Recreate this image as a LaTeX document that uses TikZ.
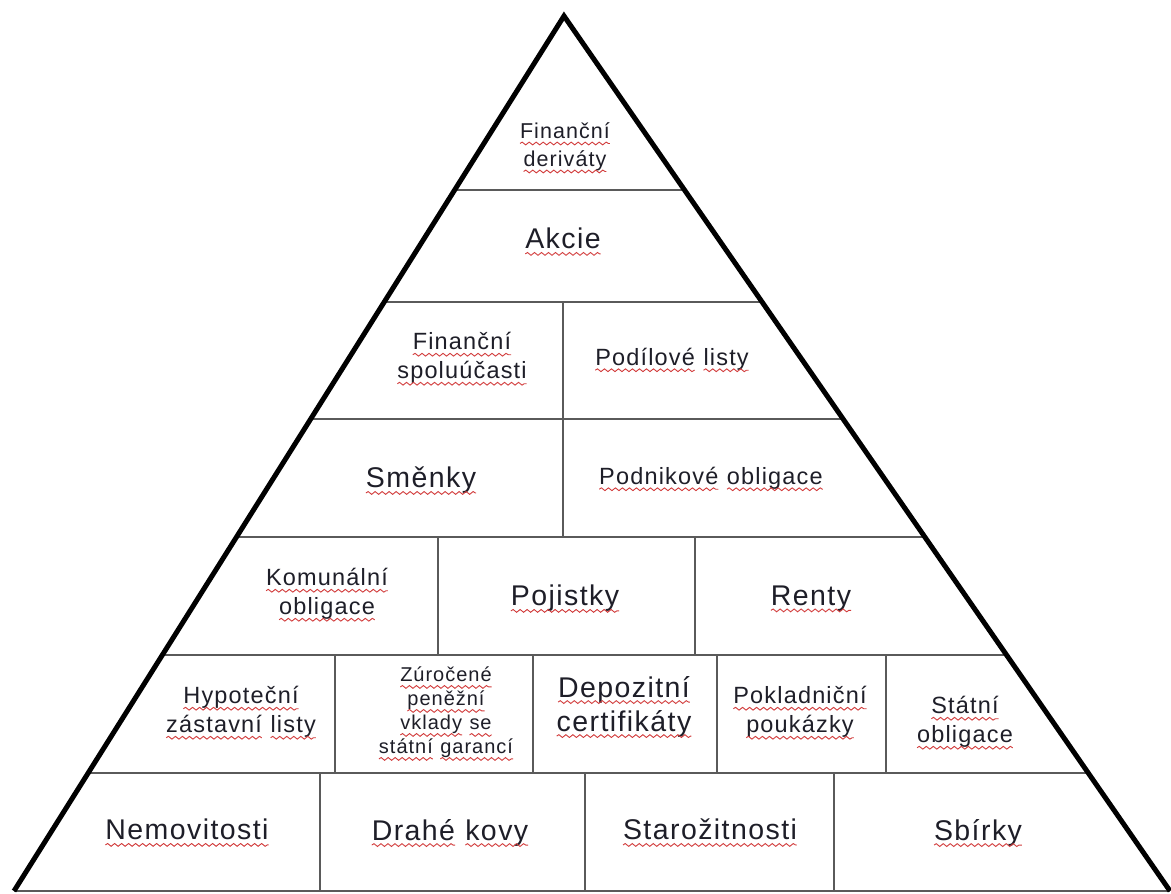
\documentclass[tikz,border=0pt]{standalone}
\usepackage{fontspec}
\setmainfont{Liberation Sans}[LetterSpace=5]
\usetikzlibrary{calc,decorations.pathmorphing}
\definecolor{wavered}{HTML}{D23C3C}
\definecolor{txt}{HTML}{1E1E28}
\definecolor{rule}{HTML}{5A5A5A}
\newcommand\rw[1]{\tikz[baseline=(w.base)]{\node[inner sep=0pt,outer sep=0pt] (w) {#1};
  \draw[wavered, line width=0.9pt, decorate, decoration={snake, amplitude=1.4pt, segment length=7pt}]
    ([yshift=-5pt]w.base west) -- ([yshift=-5pt]w.base east);}}
\tikzset{
  lbl/.style={align=center, text=txt, inner sep=0pt},
  big/.style={lbl, font=\fontsize{28.5}{34}\selectfont},
  mid/.style={lbl, font=\fontsize{23.5}{29}\selectfont},
  small/.style={lbl, font=\fontsize{21.5}{28}\selectfont},
  tiny/.style={lbl, font=\fontsize{20}{24}\selectfont},
  side/.style={line width=5pt, black, line join=miter},
  hline/.style={line width=2pt, rule},
  vline/.style={line width=2pt, rule},
}
\begin{document}
\begin{tikzpicture}[x=1pt, y=-1pt]
\useasboundingbox (0,0) rectangle (1171,894);
\fill[white] (0,0) rectangle (1171,894);
\coordinate (A) at (564,16);
\coordinate (L) at (14,891);
\coordinate (R) at (1170,891);
% horizontal rules
\foreach \yy in {190,302,419,537,655,773} {
  \pgfmathsetmacro\tt{(\yy-16)/875}
  \draw[hline] ($(A)!\tt!(L)$) -- ($(A)!\tt!(R)$);
}
\draw[hline] (L) -- (R);
% vertical rules
\draw[vline] (563,302) -- (563,537);
\draw[vline] (438,537) -- (438,655);
\draw[vline] (695,537) -- (695,655);
\draw[vline] (335,655) -- (335,773);
\draw[vline] (533,655) -- (533,773);
\draw[vline] (717,655) -- (717,773);
\draw[vline] (886,655) -- (886,773);
\draw[vline] (320,773) -- (320,891);
\draw[vline] (585,773) -- (585,891);
\draw[vline] (834,773) -- (834,891);
% triangle sides
\draw[side] (L) -- (A) -- (R);
% labels
\node[small] (fd) at (565,148) {\rw{Finanční}\\\rw{deriváty}};
\node[big] (ak) at (563,242) {\rw{Akcie}};
\node[mid] (fs) at (462,359) {\rw{Finanční}\\\rw{spoluúčasti}};
\node[mid] (pl) at (672,360) {\rw{Podílové} \rw{listy}};
\node[big] (sm) at (421,481) {\rw{Směnky}};
\node[mid] (po) at (711,479) {\rw{Podnikové} \rw{obligace}};
\node[mid] (ko) at (327,595) {\rw{Komunální}\\\rw{obligace}};
\node[big] (pj) at (565,599) {\rw{Pojistky}};
\node[big] (re) at (811,599) {\rw{Renty}};
\node[mid] (hz) at (241,713) {\rw{Hypoteční}\\\rw{zástavní} \rw{listy}};
\node[tiny] (zp) at (446,714) {\rw{Zúročené}\\\rw{peněžní}\\\rw{vklady} \rw{se}\\\rw{státní} \rw{garancí}};
\node[big] (dc) at (624,707) {\rw{Depozitní}\\\rw{certifikáty}};
\node[mid] (pp) at (800,713) {\rw{Pokladniční}\\\rw{poukázky}};
\node[mid] (so) at (965,723) {\rw{Státní}\\\rw{obligace}};
\node[big] (ne) at (187,833) {\rw{Nemovitosti}};
\node[big] (dk) at (450,833) {\rw{Drahé} \rw{kovy}};
\node[big] (st) at (710,833) {\rw{Starožitnosti}};
\node[big] (sb) at (978,833) {\rw{Sbírky}};
\end{tikzpicture}
\end{document}
